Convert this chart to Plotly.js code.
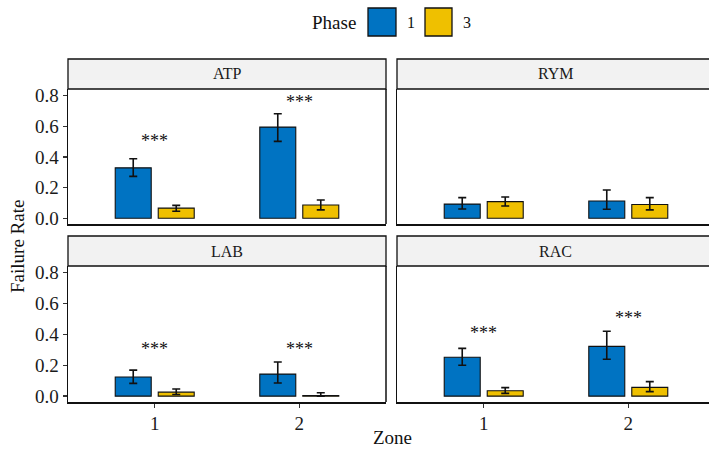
<!DOCTYPE html>
<html>
<head>
<meta charset="utf-8">
<script src="https://cdn.plot.ly/plotly-3.0.1.min.js"></script>
<style>html,body{margin:0;padding:0;background:#fff;}#chart{width:709px;height:449px;}</style>
</head>
<body>
<div id="chart"></div>
<script>
// ---- data ----
const facets = ['ATP', 'RYM', 'LAB', 'RAC'];
const zones = [1, 2];
const phases = ['1', '3'];

const phase1Mean  = {ATP: [0.329, 0.595], RYM: [0.092, 0.112], LAB: [0.124, 0.143], RAC: [0.252, 0.323]};
const phase1Upper = {ATP: [0.388, 0.682], RYM: [0.134, 0.184], LAB: [0.169, 0.221], RAC: [0.310, 0.421]};
const phase1Lower = {ATP: [0.273, 0.502], RYM: [0.060, 0.058], LAB: [0.083, 0.085], RAC: [0.200, 0.239]};

const phase3Mean  = {ATP: [0.066, 0.086], RYM: [0.108, 0.089], LAB: [0.026, 0.004], RAC: [0.035, 0.057]};
const phase3Upper = {ATP: [0.084, 0.119], RYM: [0.138, 0.134], LAB: [0.046, 0.022], RAC: [0.055, 0.094]};
const phase3Lower = {ATP: [0.045, 0.054], RYM: [0.080, 0.054], LAB: [0.011, 0.000], RAC: [0.018, 0.029]};

const sigLabel = '***';
const sigY = {ATP: [0.505, 0.760], RYM: [null, null], LAB: [0.305, 0.305], RAC: [0.410, 0.510]};

const yTicks = [0, 0.2, 0.4, 0.6, 0.8];
const xTitle = 'Zone';
const yTitle = 'Failure Rate';
const legendTitle = 'Phase';

// ---- styling / layout ----
const FONT = '"Liberation Serif", "Times New Roman", serif';
const colors = {'1': '#0073C2', '3': '#EFC000'};
const axisIds = {ATP: ['x', 'y'], RYM: ['x2', 'y2'], LAB: ['x3', 'y3'], RAC: ['x4', 'y4']};

const W = 709, H = 449;
const M = {l: 68, r: 0, t: 89, b: 47};
const PW = W - M.l - M.r, PH = H - M.t - M.b;
const px = v => (v - M.l) / PW;
const py = v => (H - M.b - v) / PH;

const leftDom = [0, px(386)];
const rightDom = [px(397), 1];
const topDom = [py(224), 1];
const botDom = [0, py(266)];
const yRange = [-0.038, 0.844];
const unitPx = (386 - 68) / 2.2;
const leftXRange = [0.4, 2.6];
const rightXRange = [0.4, 0.4 + (709 - 397) / unitPx];

const traces = [];
facets.forEach(f => {
  const [xa, ya] = axisIds[f];
  const sets = [
    ['1', phase1Mean[f], phase1Upper[f], phase1Lower[f]],
    ['3', phase3Mean[f], phase3Upper[f], phase3Lower[f]]
  ];
  sets.forEach(([ph, mean, up, lo]) => {
    traces.push({
      type: 'bar', x: zones, y: mean, xaxis: xa, yaxis: ya, name: ph,
      showlegend: false, hoverinfo: 'skip',
      marker: {color: colors[ph], line: {color: '#111', width: 1.1}},
      error_y: {
        type: 'data', symmetric: false,
        array: up.map((u, i) => u - mean[i]),
        arrayminus: lo.map((l, i) => mean[i] - l),
        color: '#111', thickness: 1.6, width: 4
      }
    });
  });
});

const tickFont = {family: FONT, size: 19, color: '#1a1a1a'};
function xAxis(dom, anchor, range, showTicks) {
  return {
    domain: dom, anchor: anchor, range: range, tickvals: zones, ticktext: zones.map(String),
    showticklabels: showTicks, ticks: showTicks ? 'outside' : '', ticklen: 4, tickwidth: 1.3, tickcolor: '#333',
    showgrid: false, zeroline: false, showline: true, linecolor: '#111', linewidth: 1.5,
    mirror: false, tickfont: tickFont, fixedrange: true
  };
}
function yAxis(dom, anchor, showTicks) {
  return {
    domain: dom, anchor: anchor, range: yRange, tickvals: yTicks, tickformat: '.1f',
    showticklabels: showTicks, ticks: showTicks ? 'outside' : '', ticklen: 4, tickwidth: 1.3, tickcolor: '#333',
    showgrid: false, zeroline: false, showline: true, linecolor: '#111', linewidth: 1.5,
    tickfont: tickFont, fixedrange: true
  };
}

const shapes = [];
const annotations = [];

// panel right borders for left panels
[[topDom], [botDom]].forEach(([d]) => {
  shapes.push({type: 'line', xref: 'paper', yref: 'paper', x0: leftDom[1], x1: leftDom[1], y0: d[0], y1: d[1],
               line: {color: '#111', width: 1.5}});
});

// strips
const stripH = 30 / PH;
const stripDefs = [
  ['ATP', leftDom, topDom], ['RYM', rightDom, topDom],
  ['LAB', leftDom, botDom], ['RAC', rightDom, botDom]
];
stripDefs.forEach(([lab, xd, yd]) => {
  const x1 = xd[1] >= 1 ? 1.02 : xd[1];
  shapes.push({type: 'rect', xref: 'paper', yref: 'paper', x0: xd[0], x1: x1, y0: yd[1], y1: yd[1] + stripH,
               fillcolor: '#F2F2F2', line: {color: '#111', width: 1.3}, layer: 'below'});
  const cx = xd === rightDom ? px((397 + 714) / 2) : (xd[0] + xd[1]) / 2;
  annotations.push({xref: 'paper', yref: 'paper', x: cx, y: yd[1] + stripH / 2, text: lab, showarrow: false,
                    xanchor: 'center', yanchor: 'middle', font: {family: FONT, size: 16, color: '#1a1a1a'}});
});

// significance labels
facets.forEach(f => {
  const [xa, ya] = axisIds[f];
  zones.forEach((z, i) => {
    if (sigY[f][i] === null) return;
    annotations.push({xref: xa, yref: ya, x: z, y: sigY[f][i], text: sigLabel, showarrow: false,
                      xanchor: 'center', yanchor: 'middle', font: {family: FONT, size: 18, color: '#111'}});
  });
});

// axis titles
annotations.push({xref: 'paper', yref: 'paper', x: px(392), y: py(437), text: xTitle, showarrow: false,
                  xanchor: 'center', yanchor: 'middle', font: {family: FONT, size: 19, color: '#111'}});
annotations.push({xref: 'paper', yref: 'paper', x: px(17), y: py(247), text: yTitle, showarrow: false, textangle: -90,
                  xanchor: 'center', yanchor: 'middle', font: {family: FONT, size: 19, color: '#111'}});

// legend (manual, large keys like the reference)
annotations.push({xref: 'paper', yref: 'paper', x: px(358), y: py(22), text: legendTitle, showarrow: false,
                  xanchor: 'right', yanchor: 'middle', font: {family: FONT, size: 19, color: '#111'}});
const keyX = {'1': [368, 396], '3': [425, 452]};
phases.forEach(ph => {
  shapes.push({type: 'rect', xref: 'paper', yref: 'paper', x0: px(keyX[ph][0]), x1: px(keyX[ph][1]),
               y0: py(36), y1: py(8), fillcolor: colors[ph], line: {color: '#111', width: 1.3}});
  annotations.push({xref: 'paper', yref: 'paper', x: px(keyX[ph][1] + 9), y: py(22), text: ph, showarrow: false,
                    xanchor: 'left', yanchor: 'middle', font: {family: FONT, size: 16, color: '#111'}});
});

const layout = {
  width: W, height: H, margin: M, paper_bgcolor: '#fff', plot_bgcolor: '#fff',
  barmode: 'group', bargap: 0.405, bargroupgap: 0.163, showlegend: false,
  font: {family: FONT},
  xaxis: xAxis(leftDom, 'y', leftXRange, false),
  yaxis: yAxis(topDom, 'x', true),
  xaxis2: xAxis(rightDom, 'y2', rightXRange, false),
  yaxis2: yAxis(topDom, 'x2', false),
  xaxis3: xAxis(leftDom, 'y3', leftXRange, true),
  yaxis3: yAxis(botDom, 'x3', true),
  xaxis4: xAxis(rightDom, 'y4', rightXRange, true),
  yaxis4: yAxis(botDom, 'x4', false),
  shapes: shapes, annotations: annotations
};

Plotly.newPlot('chart', traces, layout, {staticPlot: true, displayModeBar: false});
</script>
</body>
</html>
